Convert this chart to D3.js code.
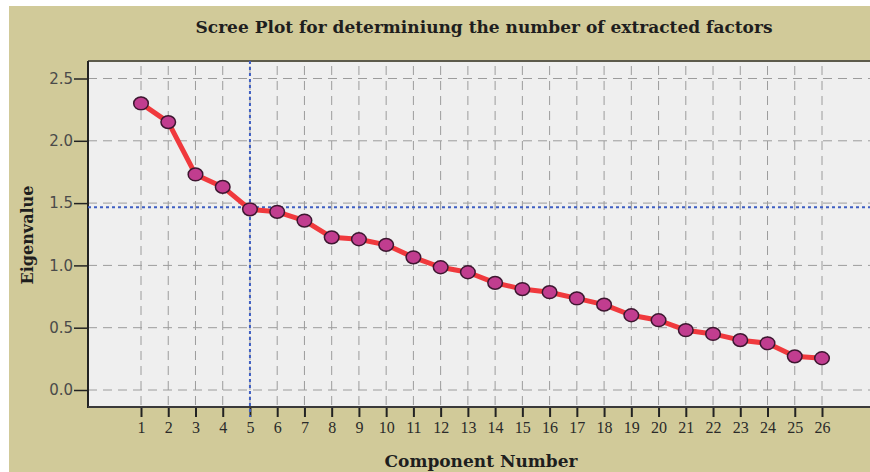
<!DOCTYPE html>
<html>
<head>
<meta charset="utf-8">
<script src="https://cdn.jsdelivr.net/npm/d3@7"></script>
<style>
  html, body { margin: 0; padding: 0; background: #fff; }
  svg { display: block; }
</style>
</head>
<body>
<svg id="chart" width="870" height="472"></svg>
<script>
// scree plot values
const components = d3.range(1, 27);
const eigenvalues = [2.30, 2.15, 1.73, 1.63, 1.45, 1.43, 1.36, 1.225, 1.21, 1.165,
  1.065, 0.985, 0.945, 0.86, 0.81, 0.785, 0.735, 0.685, 0.60, 0.56,
  0.48, 0.45, 0.40, 0.375, 0.27, 0.255];
const yTicks = [0, 0.5, 1.0, 1.5, 2.0, 2.5];
const cutoffComponent = 5;
const cutoffEigenvalue = 1.466;

const title = 'Scree Plot for determiniung the number of extracted factors';
const xTitle = 'Component Number';
const yTitle = 'Eigenvalue';

const svg = d3.select('#chart');
const W = 870, H = 472;
const plot = { left: 88, top: 61, right: 872, bottom: 407 };

const x = d3.scaleLinear().domain([1, 26]).range([141, 822]);
const y = d3.scaleLinear().domain([0, 2.5]).range([390, 78.5]);

// khaki frame
svg.append('rect').attr('x', 9).attr('y', 6).attr('width', W - 9).attr('height', H - 6)
  .attr('fill', '#d1ca99');

// plot area
svg.append('rect').attr('x', plot.left).attr('y', plot.top)
  .attr('width', plot.right - plot.left).attr('height', plot.bottom - plot.top)
  .attr('fill', '#efefef');

// grid
const grid = svg.append('g').attr('stroke', '#9c9c9c').attr('stroke-width', 1)
  .attr('stroke-dasharray', '9,6');
grid.selectAll('.hg').data(yTicks).join('line')
  .attr('x1', plot.left).attr('x2', plot.right)
  .attr('y1', d => y(d)).attr('y2', d => y(d));
grid.selectAll('.vg').data(components).join('line')
  .attr('x1', d => x(d)).attr('x2', d => x(d))
  .attr('y1', plot.top + 5).attr('y2', plot.bottom);

// top border
svg.append('line').attr('x1', plot.left).attr('x2', plot.right)
  .attr('y1', plot.top).attr('y2', plot.top)
  .attr('stroke', '#5d5b4c').attr('stroke-width', 2);

// axes
const yAxis = svg.append('g').attr('transform', `translate(${plot.left},0)`)
  .call(d3.axisLeft(y).tickValues(yTicks).tickFormat(d3.format('.1f')).tickSize(14).tickPadding(1));
yAxis.select('.domain').remove();
yAxis.selectAll('.tick line').attr('stroke', '#222').attr('stroke-width', 1.5);
yAxis.selectAll('.tick text').attr('fill', '#4a4a4a')
  .style('font-family', '"DejaVu Sans", sans-serif').style('font-size', '15px');

const xAxis = svg.append('g').attr('transform', `translate(0,${plot.bottom})`)
  .call(d3.axisBottom(x).tickValues(components).tickFormat(d3.format('d')).tickSize(10).tickPadding(5));
xAxis.select('.domain').remove();
xAxis.selectAll('.tick line').attr('stroke', '#222').attr('stroke-width', 2);
xAxis.selectAll('.tick text').attr('fill', '#2a2a2a')
  .style('font-family', '"Liberation Serif", serif').style('font-size', '16px');

svg.append('line').attr('x1', plot.left).attr('x2', plot.left)
  .attr('y1', plot.top).attr('y2', plot.bottom + 1)
  .attr('stroke', '#222').attr('stroke-width', 2);
svg.append('line').attr('x1', plot.left).attr('x2', plot.right)
  .attr('y1', plot.bottom).attr('y2', plot.bottom)
  .attr('stroke', '#3a3a3a').attr('stroke-width', 2);

// reference lines
const ref = svg.append('g').attr('stroke', '#3f5fc2').attr('stroke-width', 2)
  .attr('stroke-dasharray', '3,3');
ref.append('line').attr('x1', x(cutoffComponent)).attr('x2', x(cutoffComponent))
  .attr('y1', plot.top).attr('y2', plot.bottom + 10);
ref.append('line').attr('x1', plot.left).attr('x2', plot.right)
  .attr('y1', y(cutoffEigenvalue)).attr('y2', y(cutoffEigenvalue));

// scree line and markers
const pts = components.map((c, i) => [c, eigenvalues[i]]);
svg.append('path').datum(pts)
  .attr('fill', 'none').attr('stroke', '#f0393d').attr('stroke-width', 5)
  .attr('stroke-linejoin', 'round')
  .attr('d', d3.line().x(d => x(d[0])).y(d => y(d[1])));
svg.selectAll('.pt').data(pts).join('ellipse')
  .attr('cx', d => x(d[0])).attr('cy', d => y(d[1]))
  .attr('rx', 7.3).attr('ry', 6.4)
  .attr('fill', '#c13d8f').attr('stroke', '#3d1730').attr('stroke-width', 1.5);

// titles
const serifBold = '"DejaVu Serif", serif';
svg.append('text').attr('x', 484).attr('y', 33).attr('text-anchor', 'middle')
  .style('font-family', serifBold).style('font-weight', 'bold').style('font-size', '17px')
  .attr('fill', '#1e1e1e').text(title);
svg.append('text').attr('x', 481).attr('y', 467).attr('text-anchor', 'middle')
  .style('font-family', serifBold).style('font-weight', 'bold').style('font-size', '17px')
  .attr('fill', '#1e1e1e').text(xTitle);
svg.append('text').attr('transform', `translate(33,235) rotate(-90)`).attr('text-anchor', 'middle')
  .style('font-family', serifBold).style('font-weight', 'bold').style('font-size', '16px')
  .attr('fill', '#1e1e1e').text(yTitle);
</script>
</body>
</html>
